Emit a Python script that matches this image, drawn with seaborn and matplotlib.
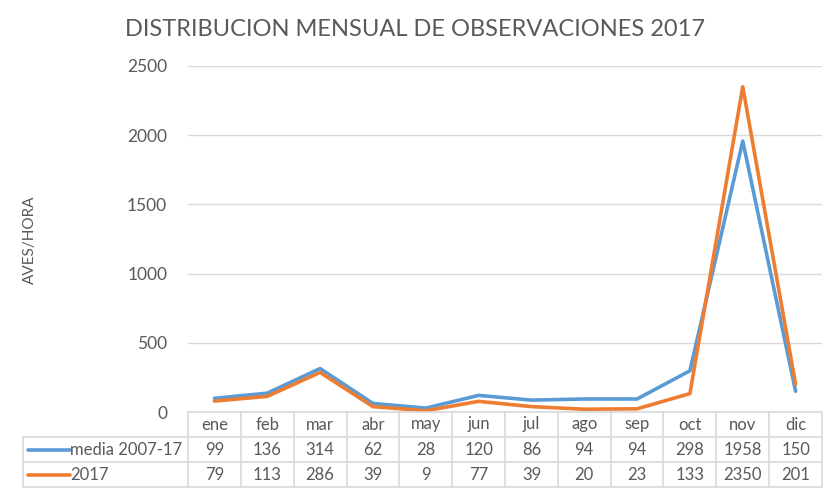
import pandas as pd
import matplotlib.pyplot as plt
import seaborn as sns

# data
months = ["ene", "feb", "mar", "abr", "may", "jun", "jul", "ago", "sep", "oct", "nov", "dic"]
media = [99, 136, 314, 62, 28, 120, 86, 94, 94, 298, 1958, 150]
y2017 = [79, 113, 286, 39, 9, 77, 39, 20, 23, 133, 2350, 201]
series_names = ["media 2007-17", "2017"]
y_ticks = [0, 500, 1000, 1500, 2000, 2500]

colors = ["#5B9BD5", "#ED7D31"]
grey = "#595959"
border = "#D9D9D9"

df = pd.DataFrame({
    "pos": list(range(len(months))) * 2,
    "value": media + y2017,
    "serie": [series_names[0]] * len(months) + [series_names[1]] * len(months),
})

sns.set_style("white")
plt.rcParams["font.family"] = ["Lato", "DejaVu Sans"]

W, H = 828, 490
fig = plt.figure(figsize=(W / 100, H / 100), dpi=100)

# plot area in pixel units (left, top, right, bottom)
px_l, px_t, px_r, px_b = 188, 66, 822, 412
ax = fig.add_axes([px_l / W, 1 - px_b / H, (px_r - px_l) / W, (px_b - px_t) / H])

sns.lineplot(data=df, x="pos", y="value", hue="serie", palette=colors,
             linewidth=2.6, sort=False, legend=False, ax=ax)

ax.set_xlim(-0.5, len(months) - 0.5)
ax.set_ylim(0, 2500)
ax.set_yticks(y_ticks)
ax.set_xticks([])
ax.set_xlabel("")
ax.set_ylabel("")
ax.grid(axis="y", color=border, linewidth=1)
ax.set_axisbelow(True)
for s in ax.spines.values():
    s.set_visible(False)
ax.tick_params(axis="y", length=0, pad=15, labelsize=12.5, labelcolor=grey)

fig.text(415 / W, 1 - 30 / H, "DISTRIBUCION MENSUAL DE OBSERVACIONES 2017",
         ha="center", va="center", fontsize=17, color=grey)
fig.text(30 / W, 1 - 240 / H, "AVES/HORA", rotation=90, ha="center",
         va="center", fontsize=11, color=grey)

# data table under the plot
rows_y = [412, 437, 462, 487]
tbl_left = 23
col_w = (px_r - px_l) / len(months)
line_kw = dict(color=border, linewidth=1.2, transform=fig.transFigure)

def fx(x):
    return x / W

def fy(y):
    return 1 - y / H

# horizontal borders
fig.add_artist(plt.Line2D([fx(px_l), fx(px_r)], [fy(rows_y[0])] * 2, **line_kw))
for y in rows_y[1:]:
    fig.add_artist(plt.Line2D([fx(tbl_left), fx(px_r)], [fy(y)] * 2, **line_kw))
# vertical borders
fig.add_artist(plt.Line2D([fx(tbl_left)] * 2, [fy(rows_y[1]), fy(rows_y[3])], **line_kw))
for i in range(len(months) + 1):
    x = px_l + i * col_w
    fig.add_artist(plt.Line2D([fx(x)] * 2, [fy(rows_y[0]), fy(rows_y[3])], **line_kw))

for i, m in enumerate(months):
    cx = px_l + (i + 0.5) * col_w
    fig.text(fx(cx), fy((rows_y[0] + rows_y[1]) / 2), m, ha="center", va="center",
             fontsize=12, color=grey)
    fig.text(fx(cx), fy((rows_y[1] + rows_y[2]) / 2), str(media[i]), ha="center",
             va="center", fontsize=12, color=grey)
    fig.text(fx(cx), fy((rows_y[2] + rows_y[3]) / 2), str(y2017[i]), ha="center",
             va="center", fontsize=12, color=grey)

for r, (name, c) in enumerate(zip(series_names, colors)):
    cy = fy((rows_y[r + 1] + rows_y[r + 2]) / 2)
    fig.add_artist(plt.Line2D([fx(28), fx(70)], [cy, cy], color=c, linewidth=2.6,
                              transform=fig.transFigure))
    fig.text(fx(70), cy, name, ha="left", va="center", fontsize=12, color=grey)

fig.savefig("out.png", dpi=100)
